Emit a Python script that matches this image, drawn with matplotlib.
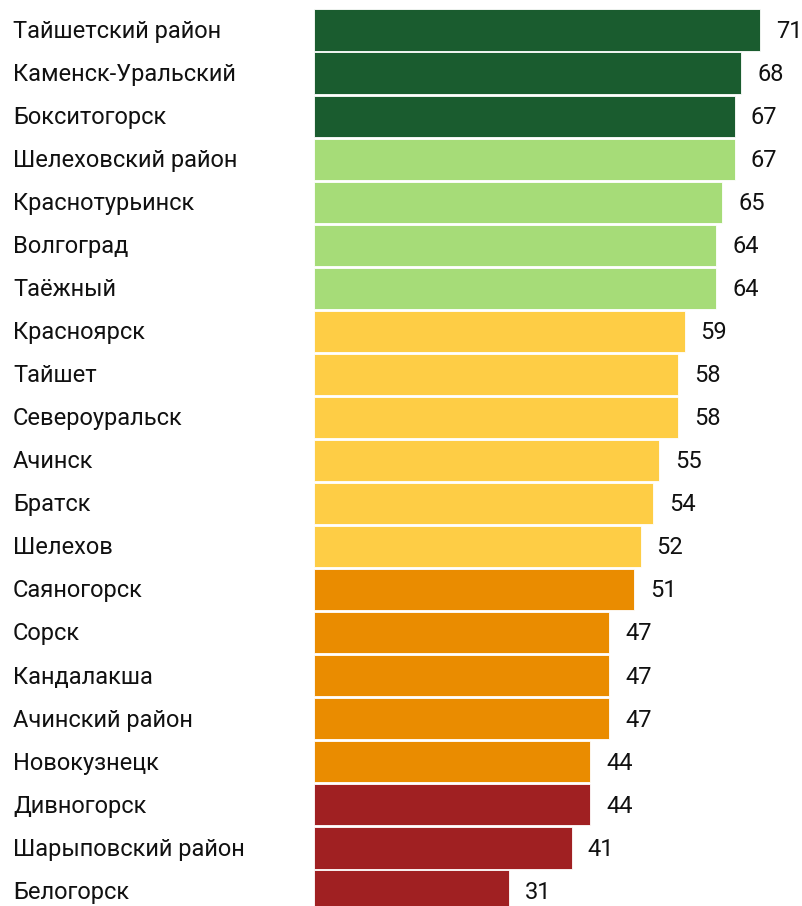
import matplotlib
matplotlib.use("Agg")
import matplotlib.pyplot as plt
from matplotlib import font_manager as fm

names = [f.name for f in fm.fontManager.ttflist]
fam = "Liberation Sans Narrow" if "Liberation Sans Narrow" in names else "Roboto"
plt.rcParams['font.family'] = [fam, 'DejaVu Sans']

categories = ["Тайшетский район", "Каменск-Уральский", "Бокситогорск", "Шелеховский район",
              "Краснотурьинск", "Волгоград", "Таёжный", "Красноярск", "Тайшет", "Североуральск",
              "Ачинск", "Братск", "Шелехов", "Саяногорск", "Сорск", "Кандалакша",
              "Ачинский район", "Новокузнецк", "Дивногорск", "Шарыповский район", "Белогорск"]
values = [71, 68, 67, 67, 65, 64, 64, 59, 58, 58, 55, 54, 52, 51, 47, 47, 47, 44, 44, 41, 31]
groups = ["dg", "dg", "dg", "lg", "lg", "lg", "lg", "y", "y", "y", "y", "y", "y",
          "o", "o", "o", "o", "o", "r", "r", "r"]
palette = {"dg": "#1a5c2f", "lg": "#a6dc78", "y": "#fecd45", "o": "#ea8c00", "r": "#a02022"}

W, H = 803, 906
fig = plt.figure(figsize=(W / 100, H / 100), dpi=100)
x0 = 314
ax = fig.add_axes([x0 / W, 0, (W - x0) / W, 1])
ppu = 446 / 71
pitch = 43.05
first = 30
ax.set_xlim(0, (W - x0) / ppu)
ax.set_ylim((H - first) / pitch, -first / pitch)
ypos = list(range(len(categories)))
ax.barh(ypos, values, height=0.955, color=[palette[g] for g in groups],
        edgecolor="#ffffff", linewidth=0.6, alpha=1)
for y, v in zip(ypos, values):
    ax.text(v + 16 / ppu, y + 0.03, str(v), va="center", ha="left", fontsize=17, color="#111111")
for y, c in zip(ypos, categories):
    ax.text(-(x0 - 13) / ppu, y + 0.03, c, va="center", ha="left", fontsize=17,
            color="#111111", clip_on=False)
ax.axis("off")
fig.savefig("out.png", dpi=100)
